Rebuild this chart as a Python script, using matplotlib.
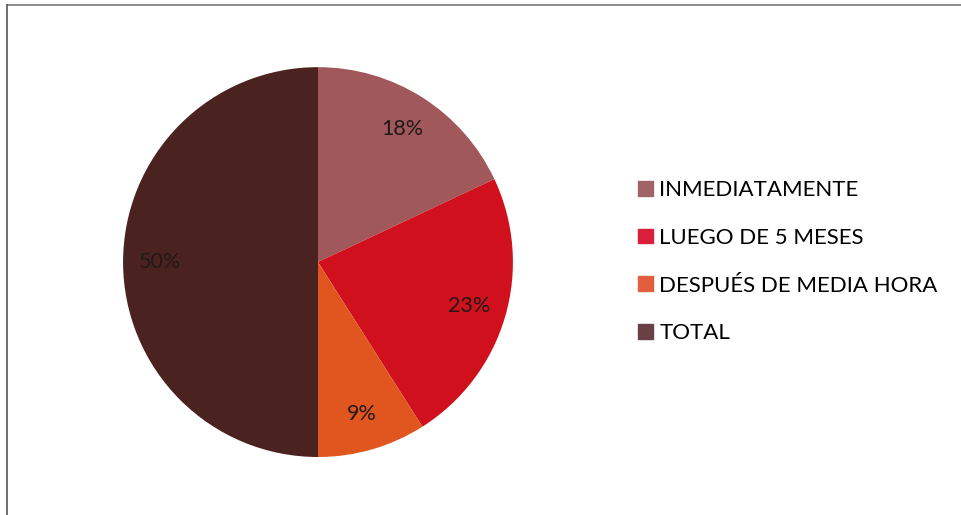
import matplotlib.pyplot as plt
from matplotlib.lines import Line2D

categorias = ["INMEDIATAMENTE", "LUEGO DE 5 MESES", "DESPUÉS DE MEDIA HORA", "TOTAL"]
porcentajes = [18, 23, 9, 50]
colores = ["#a0585a", "#d0101c", "#e0561e", "#4a2220"]
colores_leyenda = ["#a06468", "#d8203a", "#e35e3c", "#6a4044"]

plt.rcParams["font.family"] = ["Lato", "DejaVu Sans"]

fig = plt.figure(figsize=(9.61, 5.15), dpi=100)
ax = fig.add_axes([0.128, 0.1126, 0.4058, 0.757])

wedges, texts = ax.pie(
    porcentajes,
    colors=colores,
    startangle=90,
    counterclock=False,
    labels=[f"{p}%" for p in porcentajes],
    labeldistance=0.81,
    textprops={"fontsize": 15.5, "color": "#231818", "ha": "center", "va": "center"},
    wedgeprops={"linewidth": 0},
)
ax.set_aspect("equal")
ax.set_xlim(-1, 1)
ax.set_ylim(-1, 1)

handles = [plt.Rectangle((0, 0), 1, 1, color=c) for c in colores_leyenda]
fig.legend(
    handles, categorias,
    loc="center left", bbox_to_anchor=(0.655, 0.492),
    frameon=False, fontsize=16,
    handlelength=0.65, handleheight=0.65, handletextpad=0.3,
    labelspacing=1.25, borderaxespad=0,
)

# marco del gráfico (solo se ve arriba y a la izquierda)
fig.add_artist(Line2D([7 / 961, 1], [1 - 5 / 515, 1 - 5 / 515], color="#7a7a7a", lw=1.2))
fig.add_artist(Line2D([7 / 961, 7 / 961], [0, 1 - 5 / 515], color="#555555", lw=1.2))

fig.savefig("out.png", dpi=100)
